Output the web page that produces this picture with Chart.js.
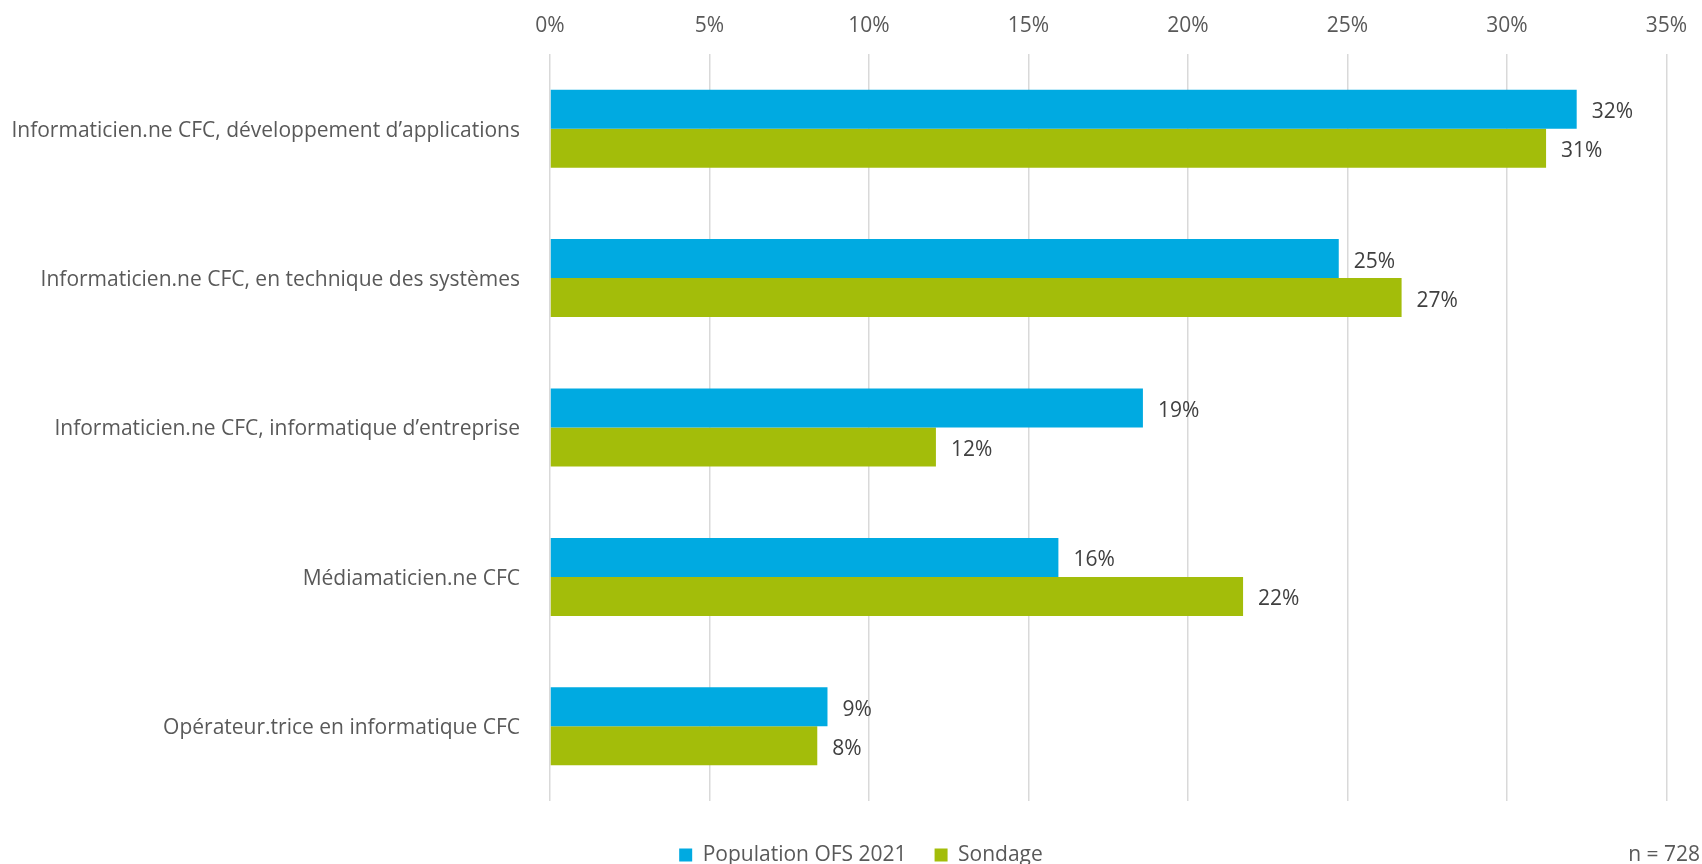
<!DOCTYPE html>
<html>
<head>
<meta charset="utf-8">
<script src="https://cdn.jsdelivr.net/npm/chart.js@4/dist/chart.umd.min.js"></script>
<style>
html,body{margin:0;padding:0;background:#fff;}
#wrap{width:1702px;height:864px;position:relative;}
</style>
</head>
<body>
<div id="wrap"><canvas id="c" width="1702" height="864"></canvas></div>
<script>
const categories = [
  "Informaticien.ne CFC, développement d’applications",
  "Informaticien.ne CFC, en technique des systèmes",
  "Informaticien.ne CFC, informatique d’entreprise",
  "Médiamaticien.ne CFC",
  "Opérateur.trice en informatique CFC"
];
const populationOFS2021 = [32.19, 24.73, 18.59, 15.94, 8.70];
const sondage = [31.23, 26.70, 12.10, 21.73, 8.38];
const seriesNames = ["Population OFS 2021", "Sondage"];
const xTicks = [0, 5, 10, 15, 20, 25, 30, 35];
const noteText = "n = 728";

const FONT = "'Open Sans'";
const FS = 21;
const GREY = "#595959";
const LEG_PAD = 28;
const LEG_Y = 855;

const valueLabels = {
  id: "valueLabels",
  afterDatasetsDraw(chart) {
    const ctx = chart.ctx;
    ctx.save();
    ctx.font = FS + "px " + FONT;
    ctx.fillStyle = "#404040";
    ctx.textAlign = "left";
    ctx.textBaseline = "middle";
    chart.data.datasets.forEach((ds, i) => {
      chart.getDatasetMeta(i).data.forEach((bar, j) => {
        ctx.fillText(Math.round(ds.data[j]) + "%", bar.x + 15, bar.y + 3);
      });
    });
    ctx.restore();
  }
};

const legendPlace = {
  id: "legendPlace",
  beforeLayout(chart) {
    const lg = chart.legend;
    if (lg && !lg._wrappedFit) {
      const f = lg.fit.bind(lg);
      lg.fit = function () { f(); this.height = 63; };
      lg._wrappedFit = true;
    }
  },
  afterLayout(chart) {
    const lg = chart.legend;
    if (!lg) return;
    const dy = LEG_Y - (lg.top + LEG_PAD + FS / 2);
    lg.top += dy; lg.bottom += dy;
    const dx = 25;
    lg.left += dx; lg.right += dx;
  }
};

const note = {
  id: "note",
  afterDraw(chart) {
    const ctx = chart.ctx;
    ctx.save();
    ctx.font = FS + "px " + FONT;
    ctx.fillStyle = GREY;
    ctx.textAlign = "right";
    ctx.textBaseline = "middle";
    ctx.fillText(noteText, 1700, LEG_Y);
    ctx.restore();
  }
};

new Chart(document.getElementById("c"), {
  type: "bar",
  data: {
    labels: categories,
    datasets: [
      { label: seriesNames[0], data: populationOFS2021, backgroundColor: "#00AAE1" },
      { label: seriesNames[1], data: sondage, backgroundColor: "#A3BD0A" }
    ]
  },
  options: {
    indexAxis: "y",
    responsive: false,
    animation: false,
    devicePixelRatio: 1,
    categoryPercentage: 0.522,
    barPercentage: 1,
    layout: { padding: { left: 0, right: 30, top: 0, bottom: 0 } },
    font: { family: FONT, size: FS },
    scales: {
      x: {
        position: "top",
        min: 0, max: 35,
        afterBuildTicks(axis) { axis.ticks = xTicks.map(v => ({ value: v })); },
        afterFit(axis) { axis.height = 54; },
        ticks: {
          color: GREY,
          font: { family: FONT, size: FS },
          padding: 15,
          callback: v => v + "%"
        },
        grid: { color: "#D9D9D9", lineWidth: 1.5, drawTicks: false },
        border: { display: false }
      },
      y: {
        afterFit(axis) { axis.width = 550; },
        ticks: {
          color: GREY,
          font: { family: FONT, size: FS },
          padding: 30,
          labelOffset: 2
        },
        grid: { display: false, drawTicks: false },
        border: { display: false }
      }
    },
    plugins: {
      legend: {
        position: "bottom",
        labels: {
          color: GREY,
          font: { family: FONT, size: FS },
          boxWidth: 13,
          boxHeight: 13,
          padding: LEG_PAD
        }
      },
      tooltip: { enabled: false }
    }
  },
  plugins: [valueLabels, legendPlace, note]
});
</script>
</body>
</html>
